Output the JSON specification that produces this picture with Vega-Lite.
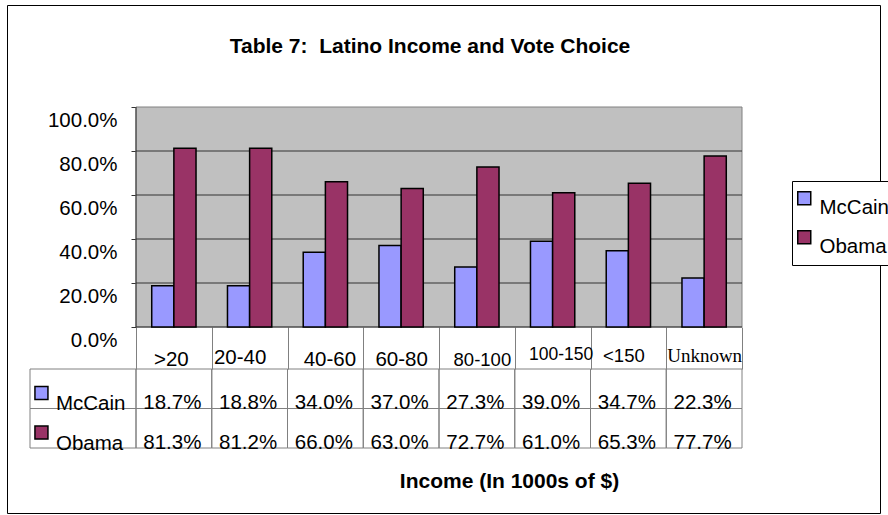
{
  "$schema": "https://vega.github.io/schema/vega-lite/v6.json",
  "width": 873,
  "height": 508,
  "autosize": {"type": "none"},
  "padding": {"left": 7, "top": 5, "right": 8, "bottom": 2},
  "background": "white",
  "view": {"stroke": "#000", "strokeWidth": 1, "fill": "#fff"},
  "title": {
    "text": "Table 7:\u00a0 Latino Income and Vote Choice",
    "font": "Liberation Sans", "fontSize": 21, "fontWeight": "bold", "color": "#000",
    "anchor": "middle", "frame": "group", "offset": -69, "baseline": "alphabetic", "dx": -13.5
  },
  "config": {"font": "Liberation Sans"},
  "datasets": {
    "votes": [
      {"income": ">20", "candidate": "McCain", "value": 0.187},
      {"income": ">20", "candidate": "Obama", "value": 0.813},
      {"income": "20-40", "candidate": "McCain", "value": 0.188},
      {"income": "20-40", "candidate": "Obama", "value": 0.812},
      {"income": "40-60", "candidate": "McCain", "value": 0.34},
      {"income": "40-60", "candidate": "Obama", "value": 0.66},
      {"income": "60-80", "candidate": "McCain", "value": 0.37},
      {"income": "60-80", "candidate": "Obama", "value": 0.63},
      {"income": "80-100", "candidate": "McCain", "value": 0.273},
      {"income": "80-100", "candidate": "Obama", "value": 0.727},
      {"income": "100-150", "candidate": "McCain", "value": 0.39},
      {"income": "100-150", "candidate": "Obama", "value": 0.61},
      {"income": "<150", "candidate": "McCain", "value": 0.347},
      {"income": "<150", "candidate": "Obama", "value": 0.653},
      {"income": "Unknown", "candidate": "McCain", "value": 0.223},
      {"income": "Unknown", "candidate": "Obama", "value": 0.777}
    ],
    "grid": [{"level": 0}, {"level": 0.2}, {"level": 0.4}, {"level": 0.6}, {"level": 0.8}],
    "series": [{"candidate": "McCain"}, {"candidate": "Obama"}],
    "one": [{"n": 1}]
  },
  "data": {"name": "votes"},
  "resolve": {"scale": {"x": "independent", "y": "independent"}},
  "layer": [
    {
      "data": {"name": "one"},
      "mark": {"type": "rect", "fill": "#c0c0c0", "stroke": "#808080", "strokeWidth": 1},
      "encoding": {
        "x": {"datum": ">20", "type": "nominal", "bandPosition": 0, "axis": null,
          "scale": {"type": "band", "domain": [">20", "20-40", "40-60", "60-80", "80-100", "100-150", "<150", "Unknown"], "range": [129, 735], "paddingInner": 0, "paddingOuter": 0}},
        "x2": {"datum": "Unknown", "bandPosition": 1},
        "y": {"datum": 0, "type": "quantitative", "axis": null,
          "scale": {"type": "linear", "domain": [-0.84545, 1.46364], "zero": false, "nice": false}},
        "y2": {"datum": 1}
      }
    },
    {
      "data": {"name": "grid"},
      "mark": {"type": "rule", "stroke": "#333", "strokeWidth": 1},
      "encoding": {
        "x": {"datum": ">20", "type": "nominal", "bandPosition": 0, "axis": null,
          "scale": {"type": "band", "domain": [">20", "20-40", "40-60", "60-80", "80-100", "100-150", "<150", "Unknown"], "range": [129, 735], "paddingInner": 0, "paddingOuter": 0}},
        "x2": {"datum": "Unknown", "bandPosition": 1},
        "y": {"field": "level", "type": "quantitative", "axis": null,
          "scale": {"type": "linear", "domain": [-0.84545, 1.46364], "zero": false, "nice": false}}
      }
    },
    {
      "data": {"name": "one"},
      "mark": {"type": "rule", "stroke": "#333", "strokeWidth": 1},
      "encoding": {
        "x": {"datum": ">20", "type": "nominal", "bandPosition": 0, "axis": null,
          "scale": {"type": "band", "domain": [">20", "20-40", "40-60", "60-80", "80-100", "100-150", "<150", "Unknown"], "range": [129, 735], "paddingInner": 0, "paddingOuter": 0}},
        "y": {"datum": 0, "type": "quantitative", "axis": null,
          "scale": {"type": "linear", "domain": [-0.84545, 1.46364], "zero": false, "nice": false}},
        "y2": {"datum": 1}
      }
    },
    {
      "mark": {"type": "bar", "stroke": "#000", "strokeWidth": 1.5},
      "encoding": {
        "x": {"field": "income", "type": "nominal", "sort": null,
          "scale": {"type": "band", "domain": [">20", "20-40", "40-60", "60-80", "80-100", "100-150", "<150", "Unknown"], "range": [129, 735], "paddingInner": 0, "paddingOuter": 0},
          "axis": {
            "orient": "bottom", "offset": -186,
            "title": "Income (In 1000s of $)", "titleX": 502, "titleY": 160, "titleAlign": "center", "titleBaseline": "alphabetic",
            "titleFont": "Liberation Sans", "titleFontSize": 21, "titleFontWeight": "bold", "titleColor": "#000",
            "domain": false, "grid": false, "ticks": true, "tickBand": "extent", "tickSize": 42, "tickColor": "#808080", "tickWidth": 1,
            "labelAngle": 0, "labelOverlap": false, "labelFlush": false, "labelLimit": 200, "labelColor": "#000", "labelBaseline": "alphabetic",
            "labelPadding": {"condition": [
              {"test": "datum.value == '20-40'", "value": -5.7},
              {"test": "datum.value == '100-150'", "value": -9.7},
              {"test": "datum.value == '<150'", "value": -7.3},
              {"test": "datum.value == 'Unknown'", "value": -7.3}], "value": -4},
            "labelOffset": {"condition": [
              {"test": "datum.value == '>20'", "value": -3},
              {"test": "datum.value == '20-40'", "value": -10},
              {"test": "datum.value == '40-60'", "value": 4},
              {"test": "datum.value == '80-100'", "value": 5},
              {"test": "datum.value == '100-150'", "value": 8},
              {"test": "datum.value == '<150'", "value": -5}], "value": 0},
            "labelFont": {"condition": {"test": "datum.value == 'Unknown'", "value": "Liberation Serif"}, "value": "Liberation Sans"},
            "labelFontSize": {"condition": [
              {"test": "datum.value == '80-100'", "value": 18.5},
              {"test": "datum.value == '100-150'", "value": 17.5},
              {"test": "datum.value == '<150'", "value": 18.5},
              {"test": "datum.value == 'Unknown'", "value": 19}], "value": 20.5}
          }},
        "xOffset": {"field": "candidate", "type": "nominal", "scale": {"domain": ["McCain", "Obama"], "paddingInner": 0, "paddingOuter": 0.71}},
        "y": {"field": "value", "type": "quantitative",
          "scale": {"type": "linear", "domain": [-0.84545, 1.46364], "zero": false, "nice": false},
          "axis": {
            "orient": "left", "offset": -129, "values": [0, 0.2, 0.4, 0.6, 0.8, 1], "format": ".1%", "title": null,
            "domain": false, "grid": false, "ticks": true, "tickSize": 5, "tickColor": "#333",
            "labelFont": "Liberation Sans", "labelFontSize": 20.5, "labelColor": "#000", "labelPadding": 14,
            "labelOffset": 19, "labelBaseline": "alphabetic", "labelOverlap": false, "labelFlush": false
          }},
        "fill": {"field": "candidate", "type": "nominal",
          "scale": {"domain": ["McCain", "Obama"], "range": ["#9999ff", "#993366"]},
          "legend": {"orient": "none", "legendX": 785, "legendY": 176, "title": null, "strokeColor": "#000", "fillColor": "#fff",
            "padding": 7, "symbolType": "square", "symbolSize": 169, "symbolStrokeColor": "#000", "symbolStrokeWidth": 1.5, "symbolOffset": -5,
            "labelFont": "Liberation Sans", "labelFontSize": 20.5, "labelColor": "#000", "labelBaseline": "top", "labelOffset": 5,
            "rowPadding": 8, "labelLimit": 300}}
      }
    },
    {
      "mark": {"type": "rect", "fill": "transparent", "stroke": "#808080", "strokeWidth": 1},
      "encoding": {
        "x": {"field": "income", "type": "nominal", "axis": null,
          "scale": {"type": "band", "domain": [">20", "20-40", "40-60", "60-80", "80-100", "100-150", "<150", "Unknown"], "range": [129, 735], "paddingInner": 0, "paddingOuter": 0}},
        "y": {"field": "candidate", "type": "nominal", "axis": null,
          "scale": {"type": "band", "domain": ["McCain", "Obama"], "range": [364, 443], "paddingInner": 0, "paddingOuter": 0}}
      }
    },
    {
      "mark": {"type": "text", "font": "Liberation Sans", "fontSize": 20.5, "color": "#000", "align": "center", "baseline": "alphabetic", "dx": -1.5, "dy": 0.5},
      "encoding": {
        "x": {"field": "income", "type": "nominal", "axis": null,
          "scale": {"type": "band", "domain": [">20", "20-40", "40-60", "60-80", "80-100", "100-150", "<150", "Unknown"], "range": [129, 735], "paddingInner": 0, "paddingOuter": 0}},
        "y": {"field": "candidate", "type": "nominal", "bandPosition": 1, "axis": null,
          "scale": {"type": "band", "domain": ["McCain", "Obama"], "range": [364, 443], "paddingInner": 0, "paddingOuter": 0}},
        "text": {"field": "value", "type": "quantitative", "format": ".1%"}
      }
    },
    {
      "data": {"name": "series"},
      "mark": {"type": "rect", "fill": "transparent", "stroke": "#808080", "strokeWidth": 1},
      "encoding": {
        "x": {"datum": "lab", "type": "nominal", "axis": null,
          "scale": {"type": "band", "domain": ["lab"], "range": [23, 129], "paddingInner": 0, "paddingOuter": 0}},
        "y": {"field": "candidate", "type": "nominal", "axis": null,
          "scale": {"type": "band", "domain": ["McCain", "Obama"], "range": [364, 443], "paddingInner": 0, "paddingOuter": 0}}
      }
    },
    {
      "data": {"name": "series"},
      "mark": {"type": "point", "shape": "square", "size": 169, "filled": true, "opacity": 1, "stroke": "#000", "strokeWidth": 1.5},
      "encoding": {
        "x": {"datum": "lab", "type": "nominal", "bandPosition": 0.108, "axis": null,
          "scale": {"type": "band", "domain": ["lab"], "range": [23, 129], "paddingInner": 0, "paddingOuter": 0}},
        "y": {"field": "candidate", "type": "nominal", "bandPosition": 0.61, "axis": null,
          "scale": {"type": "band", "domain": ["McCain", "Obama"], "range": [364, 443], "paddingInner": 0, "paddingOuter": 0}},
        "fill": {"field": "candidate", "type": "nominal",
          "scale": {"domain": ["McCain", "Obama"], "range": ["#9999ff", "#993366"]},
          "legend": {"orient": "none", "legendX": 785, "legendY": 176, "title": null, "strokeColor": "#000", "fillColor": "#fff",
            "padding": 7, "symbolType": "square", "symbolSize": 169, "symbolStrokeColor": "#000", "symbolStrokeWidth": 1.5, "symbolOffset": -5,
            "labelFont": "Liberation Sans", "labelFontSize": 20.5, "labelColor": "#000", "labelBaseline": "top", "labelOffset": 5,
            "rowPadding": 8, "labelLimit": 300}}
      }
    },
    {
      "data": {"name": "series"},
      "mark": {"type": "text", "font": "Liberation Sans", "fontSize": 20.5, "color": "#000", "align": "left", "baseline": "alphabetic", "dy": 1.5},
      "encoding": {
        "x": {"datum": "lab", "type": "nominal", "bandPosition": 0.245, "axis": null,
          "scale": {"type": "band", "domain": ["lab"], "range": [23, 129], "paddingInner": 0, "paddingOuter": 0}},
        "y": {"field": "candidate", "type": "nominal", "bandPosition": 1, "axis": null,
          "scale": {"type": "band", "domain": ["McCain", "Obama"], "range": [364, 443], "paddingInner": 0, "paddingOuter": 0}},
        "text": {"field": "candidate", "type": "nominal"}
      }
    }
  ]
}
